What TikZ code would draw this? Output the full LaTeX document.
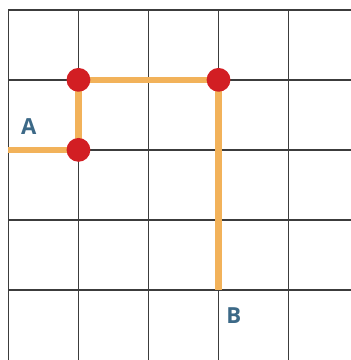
\documentclass[tikz,border=0pt]{standalone}
\usepackage{fontspec}
\setsansfont{Open Sans}
\definecolor{gridgray}{RGB}{60, 60, 60}
\definecolor{pathorange}{RGB}{242, 178, 90}
\definecolor{dotred}{RGB}{210, 30, 35}
\definecolor{labelblue}{RGB}{60, 105, 135}
\usetikzlibrary{positioning, backgrounds}

\begin{document}
\begin{tikzpicture}[
    turn/.style={circle, fill=dotred, inner sep=0pt, minimum size=0.34cm},
    route/.style={pathorange, line width=2.5pt},
    endlabel/.style={text=labelblue, font=\sffamily\bfseries\fontsize{9}{10}\selectfont}]
                    \useasboundingbox (-0.12, -5.0) rectangle (4.89, 0.14);
                    \coordinate (start) at (0, -2);
                    \coordinate (finish) at (3, -4);
                    \node[turn] (turnA) at (1, -2) {};
                    \node[turn] (turnB) at (1, -1) {};
                    \node[turn] (turnC) at (3, -1) {};
                    \begin{scope}[on background layer]
                        % grid
                        \foreach \x in {0, ..., 4}
                            \draw[gridgray, line width=0.6pt] (\x, 0) -- (\x, -5.0);
                        \foreach \y in {0, ..., 4}
                            \draw[gridgray, line width=0.6pt] (0, -\y) -- (4.89, -\y);
                        % route
                        \draw[route] (start) -- (turnA.center);
                        \draw[route] (turnA.center) -- (turnB.center);
                        \draw[route] (turnB.center) -- (turnC.center);
                        \draw[route] (turnC.center) -- (finish);
                    \end{scope}
                    \node[endlabel] (labA) at (0.29, -1.67) {A};
                    \node[endlabel] (labB) at (3.22, -4.36) {B};
                \end{tikzpicture}
\end{document}
